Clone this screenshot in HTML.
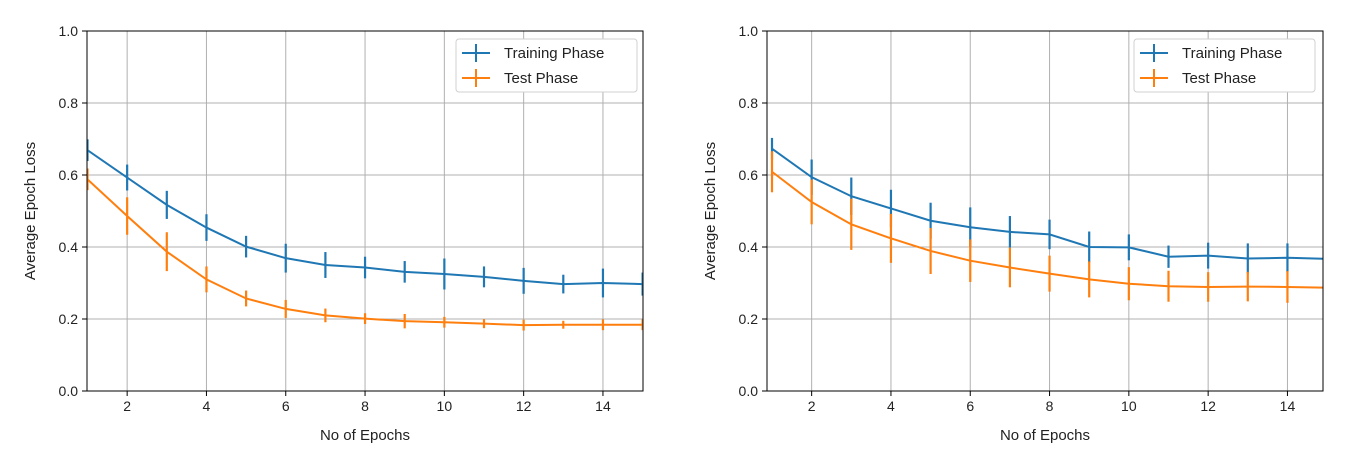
<!DOCTYPE html>
<html><head><meta charset="utf-8"><style>
body{margin:0;background:#fff;width:1355px;height:462px;overflow:hidden}
svg text{font-family:"Liberation Sans",sans-serif;fill:#222}
</style></head><body>
<svg id="svg" width="1355" height="462"></svg>
<script>
const epochs=[1,2,3,4,5,6,7,8,9,10,11,12,13,14,15];
const yTicks=[0,0.2,0.4,0.6,0.8,1.0];
const xTicks=[2,4,6,8,10,12,14];
const leftTrain=[0.669,0.593,0.517,0.454,0.401,0.369,0.350,0.343,0.331,0.325,0.317,0.306,0.297,0.300,0.297];
const leftTrainErr=[0.03,0.036,0.039,0.037,0.03,0.04,0.036,0.03,0.03,0.043,0.029,0.036,0.026,0.04,0.032];
const leftTest=[0.588,0.486,0.387,0.310,0.257,0.228,0.210,0.201,0.194,0.191,0.187,0.183,0.184,0.184,0.184];
const leftTestErr=[0.03,0.052,0.054,0.036,0.022,0.025,0.019,0.015,0.02,0.015,0.0125,0.015,0.011,0.015,0.015];
const rightTrain=[0.673,0.594,0.541,0.507,0.473,0.455,0.442,0.435,0.400,0.399,0.373,0.376,0.368,0.370,0.367];
const rightTrainErr=[0.03,0.049,0.052,0.052,0.05,0.055,0.044,0.041,0.043,0.036,0.031,0.036,0.042,0.04,0.038];
const rightTest=[0.609,0.525,0.463,0.424,0.389,0.362,0.343,0.326,0.310,0.298,0.291,0.289,0.290,0.289,0.287];
const rightTestErr=[0.057,0.062,0.071,0.068,0.064,0.059,0.055,0.05,0.05,0.046,0.043,0.041,0.041,0.044,0.043];

const svg=document.getElementById('svg');
const NS='http://www.w3.org/2000/svg';
function mk(tag,attrs,parent){const e=document.createElementNS(NS,tag);for(const k in attrs)e.setAttribute(k,attrs[k]);(parent||svg).appendChild(e);return e;}

function chart(prefix,L,R,x1px,train,trainErr,test,testErr,legX){
  const T=31,B=391,per=39.65;
  const g=mk('g',{});
  
  
  const X=v=>x1px+(v-1)*per, Y=v=>B-(B-T)*v;
  xTicks.forEach(t=>{const l=mk('line',{x1:X(t),x2:X(t),y1:T,y2:B,stroke:'#b0b0b0','stroke-width':1},g);
    
    mk('line',{x1:X(t),x2:X(t),y1:B,y2:B+5,stroke:'#000'},g);
    const tx=mk('text',{x:X(t),y:B+20,'text-anchor':'middle','font-size':14},g);tx.textContent=t;
    });
  yTicks.forEach(t=>{const l=mk('line',{x1:L,x2:R,y1:Y(t),y2:Y(t),stroke:'#b0b0b0','stroke-width':1},g);
    
    mk('line',{x1:L-5,x2:L,y1:Y(t),y2:Y(t),stroke:'#000'},g);
    const tx=mk('text',{x:L-9,y:Y(t)+5,'text-anchor':'end','font-size':14},g);tx.textContent=t.toFixed(1);
    });
  const cp=mk('clipPath',{id:prefix+'clip'},g);mk('rect',{x:L,y:T-5,width:R-L,height:B-T+10},cp);
  const plot=mk('g',{'clip-path':'url(#'+prefix+'clip)'},g);
  function series(vals,errs,color,name){
    const p=mk('polyline',{points:vals.map((v,i)=>X(epochs[i])+','+Y(v)).join(' '),fill:'none',stroke:color,'stroke-width':2},plot);
    
    vals.forEach((v,i)=>{const e=mk('line',{x1:X(epochs[i]),x2:X(epochs[i]),y1:Y(v-errs[i]),y2:Y(v+errs[i]),stroke:color,'stroke-width':2.2},plot);
      });
  }
  series(train,trainErr,'#1f77b4','training');
  series(test,testErr,'#ff7f0e','test');
  const fr=mk('rect',{x:L,y:T,width:R-L,height:B-T,fill:'none',stroke:'#000','stroke-width':1},g);
  
  const yl=mk('text',{x:0,y:0,transform:`translate(${L-52},${(T+B)/2}) rotate(-90)`,'text-anchor':'middle','font-size':15},g);
  yl.textContent='Average Epoch Loss';
  const xl=mk('text',{x:(L+R)/2,y:440,'text-anchor':'middle','font-size':15},g);
  xl.textContent='No of Epochs';
  const lg=mk('g',{},g);
  mk('rect',{x:legX,y:39,width:181,height:53,rx:3,fill:'#fff',stroke:'#d0d0d0'},lg);
  [['Training Phase','#1f77b4',53],['Test Phase','#ff7f0e',78]].forEach(([t,c,yy])=>{
    const e=mk('g',{},lg);
    mk('line',{x1:legX+6,x2:legX+34,y1:yy,y2:yy,stroke:c,'stroke-width':2},e);
    mk('line',{x1:legX+20,x2:legX+20,y1:yy-9,y2:yy+9,stroke:c,'stroke-width':2},e);
    const tx=mk('text',{x:legX+48,y:yy+5,'font-size':15},e);tx.textContent=t;});
}
chart('left',87,643,87.5,leftTrain,leftTrainErr,leftTest,leftTestErr,456);
chart('right',767,1323,772,rightTrain,rightTrainErr,rightTest,rightTestErr,1134);
</script>
</body></html>
